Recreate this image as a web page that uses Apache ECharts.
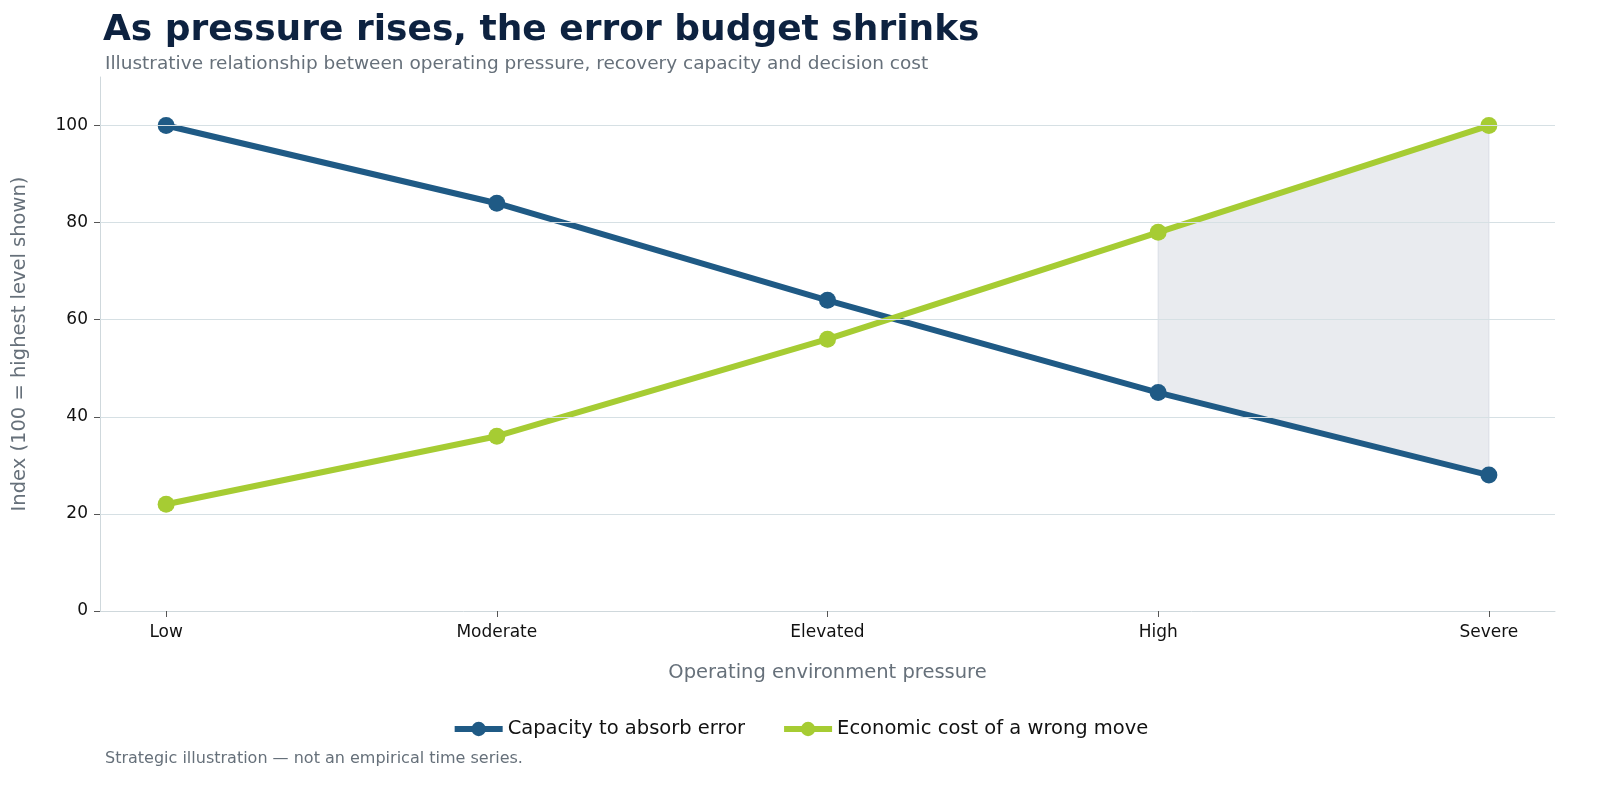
<!DOCTYPE html>
<html><head><meta charset="utf-8">
<script src="https://cdn.jsdelivr.net/npm/echarts@6/dist/echarts.min.js"></script>
<style>html,body{margin:0;padding:0;background:#fff}#main{width:1600px;height:794px}</style>
</head><body><div id="main"></div>
<script>
const categories = ['Low', 'Moderate', 'Elevated', 'High', 'Severe'];
const capacity = [100, 84, 64, 45, 28];
const cost = [22, 36, 56, 78, 100];
const shadeFrom = 3; // band between the lines from "High" onwards
const yTicks = [0, 20, 40, 60, 80, 100];

const pts = arr => arr.map((v, i) => [i, v]);

const chart = echarts.init(document.getElementById('main'));
chart.setOption({
  animation: false,
  textStyle: {fontFamily: 'DejaVu Sans'},
  title: [
    {text: 'As pressure rises, the error budget shrinks', left: 98, top: 8,
     textStyle: {fontSize: 36, fontWeight: 'bold', color: '#0d2240'}},
    {text: 'Illustrative relationship between operating pressure, recovery capacity and decision cost',
     left: 100, top: 50, textStyle: {fontSize: 18.5, fontWeight: 'normal', color: '#66707a'}},
    {text: 'Strategic illustration — not an empirical time series.', left: 100, top: 746,
     textStyle: {fontSize: 16, fontWeight: 'normal', color: '#66707a'}}
  ],
  legend: {
    bottom: 50, left: 'center', itemWidth: 48, itemHeight: 18, itemGap: 36,
    data: [
      {name: 'Capacity to absorb error', lineStyle: {width: 6}},
      {name: 'Economic cost of a wrong move', lineStyle: {width: 6}}
    ],
    textStyle: {fontSize: 19.5, color: '#111'}
  },
  grid: {left: 100, right: 45, top: 77, bottom: 183},
  xAxis: {
    type: 'value', min: -0.2, max: 4.2,
    name: 'Operating environment pressure', nameLocation: 'middle', nameGap: 52,
    nameTextStyle: {fontSize: 19.5, color: '#66707a'},
    axisLine: {show: true, onZero: false, lineStyle: {color: '#cfd8dc'}},
    axisTick: {show: true, customValues: [0, 1, 2, 3, 4], length: 6, lineStyle: {color: '#555'}},
    axisLabel: {customValues: [0, 1, 2, 3, 4], formatter: v => categories[Math.round(v)],
                fontSize: 17, color: '#111', margin: 13},
    splitLine: {show: false}
  },
  yAxis: {
    type: 'value', min: 0, max: 110,
    name: 'Index (100 = highest level shown)', nameLocation: 'middle', nameGap: 70,
    nameTextStyle: {fontSize: 19.5, color: '#66707a'},
    axisLine: {show: true, onZero: false, lineStyle: {color: '#cfd8dc'}},
    axisTick: {show: true, customValues: yTicks, length: 6, lineStyle: {color: '#555'}},
    axisLabel: {customValues: yTicks, fontSize: 17, color: '#111', margin: 12},
    splitLine: {show: false}
  },
  series: [
    {name: 'band', type: 'custom', silent: true, z: 1,
     data: [[shadeFrom, capacity.length - 1]],
     renderItem: function (params, api) {
       const a = api.value(0), b = api.value(1);
       const top = [], bot = [];
       for (let i = a; i <= b; i++) {
         top.push(api.coord([i, cost[i]]));
         bot.unshift(api.coord([i, capacity[i]]));
       }
       return {type: 'polygon', shape: {points: top.concat(bot)},
               style: {fill: '#e9ebef', stroke: '#d9dde5', lineWidth: 1}};
     },
     markLine: {silent: true, symbol: 'none', label: {show: false},
       lineStyle: {color: '#d6e0e4', width: 1.2, type: 'solid'},
       data: yTicks.slice(1).map(v => ({yAxis: v}))}},
    {name: 'Capacity to absorb error', type: 'line', data: pts(capacity), z: 3,
     color: '#1f5a85', lineStyle: {width: 6}, symbol: 'circle', symbolSize: 17},
    {name: 'Economic cost of a wrong move', type: 'line', data: pts(cost), z: 4,
     color: '#a6cc33', lineStyle: {width: 6}, symbol: 'circle', symbolSize: 17}
  ]
});
</script></body></html>
